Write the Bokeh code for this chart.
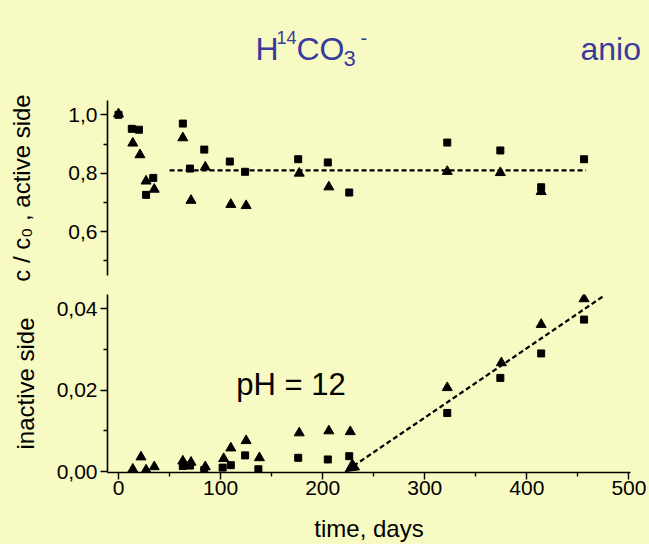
from bokeh.plotting import figure
from bokeh.layouts import column
from bokeh.models import Range1d, FixedTicker, CustomJSTickFormatter, Arrow, NormalHead, Label
from bokeh.embed import file_html
from bokeh.resources import INLINE
from bokeh.core.properties import value

# ---------------- data ----------------
top_sq_days = [0, 13, 20, 27, 34, 63, 70, 84, 109, 124, 176, 205, 226, 322, 374, 414, 456]
top_sq_vals = [1.000, 0.952, 0.949, 0.726, 0.784, 0.970, 0.816, 0.881, 0.840, 0.805, 0.848, 0.837, 0.734, 0.905, 0.878, 0.752, 0.848]

top_tr_days = [0, 14, 21, 27, 35, 63, 71, 85, 110, 125, 177, 206, 322, 374, 414]
top_tr_vals = [1.003, 0.903, 0.863, 0.773, 0.745, 0.921, 0.707, 0.821, 0.693, 0.689, 0.800, 0.753, 0.806, 0.802, 0.737]

bot_sq_days = [63, 70, 84, 102, 110, 124, 137, 176, 205, 226, 322, 374, 414, 456]
bot_sq_vals = [0.0014, 0.0015, 0.0004, 0.0010, 0.0016, 0.0040, 0.0006, 0.0034, 0.0030, 0.0038, 0.0144, 0.0230, 0.0290, 0.0373]

bot_tr_days = [14, 22, 27, 35, 63, 71, 85, 103, 110, 125, 138, 177, 206, 227, 322, 375, 414, 456]
bot_tr_vals = [0.0006, 0.0036, 0.0004, 0.0012, 0.0026, 0.0023, 0.0012, 0.0032, 0.0058, 0.0076, 0.0034, 0.0095, 0.0100, 0.0098, 0.0206, 0.0267, 0.0361, 0.0424]

mean_x = [50, 458]
mean_y = [0.81, 0.81]

fit_x = [222, 474]
fit_y = [0.0, 0.0429]

x_ticks = [0, 100, 200, 300, 400, 500]
x_minor = [50, 150, 250, 350, 450]
top_ticks = [0.6, 0.8, 1.0]
top_minor = [0.5, 0.7, 0.9]
bot_ticks = [0.0, 0.02, 0.04]
bot_minor = [0.01, 0.03]

# ---------------- style ----------------
BG = "#f7fac2"
FONT = "Liberation Sans"
BLUE = "#3a3a9e"
W = 649
xr = Range1d(-10.8, 501.5)


def style_axis(ax, size="21px"):
    ax.axis_line_width = 1.6
    ax.axis_line_color = "black"
    ax.major_tick_line_width = 1.4
    ax.minor_tick_line_width = 1.4
    ax.major_tick_in = 0
    ax.major_tick_out = 7
    ax.minor_tick_in = 0
    ax.minor_tick_out = 4
    ax.major_label_text_font = FONT
    ax.major_label_text_font_size = size
    ax.major_label_text_color = "black"
    ax.axis_label_text_font = FONT
    ax.axis_label_text_font_style = "normal"
    ax.axis_label_text_color = "black"
    ax.axis_label_text_font_size = "24px"


# ---------------- title strip ----------------
tf = figure(width=W, height=95, x_range=Range1d(0, W), y_range=Range1d(95, 0),
            output_backend="svg", toolbar_location=None, min_border=0, title=None,
            x_axis_location=None, y_axis_location=None)
tf.frame_align = False
tf.grid.visible = False
tf.outline_line_color = None
tf.background_fill_color = BG
tf.border_fill_color = BG

big = "32px"
kw = dict(text_font=value(FONT), text_color=BLUE, text_baseline="alphabetic")
tf.text(x=[255], y=[48], text=["H"], text_font_size=big, **kw)
tf.text(x=[276], y=[37], text=["14"], text_font_size="18px", **kw)
tf.text(x=[296], y=[48], text=["CO"], text_font_size=big, **kw)
tf.text(x=[343], y=[58], text=["3"], text_font_size="22px", **kw)
tf.text(x=[360], y=[37], text=["-"], text_font_size="20px", **kw)
tf.text(x=[580], y=[48], text=["anio"], text_font_size=big, **kw)

# ---------------- top panel ----------------
top = figure(width=W, height=192, x_range=xr, y_range=Range1d(0.45, 1.049),
             output_backend="svg", toolbar_location=None,
             min_border_left=107, min_border_right=19, min_border_top=5, min_border_bottom=12,
             x_axis_location=None)
top.grid.visible = False
top.outline_line_color = None
top.background_fill_color = BG
top.border_fill_color = BG
top.yaxis.ticker = FixedTicker(ticks=top_ticks, minor_ticks=top_minor)
top.yaxis.formatter = CustomJSTickFormatter(code="return tick.toFixed(1).replace('.', ',');")
top.yaxis.axis_label = "c / c\u2080 , active side"
style_axis(top.yaxis[0])
top.yaxis.major_label_standoff = 3
top.yaxis.axis_label_standoff = 30

top.line(mean_x, mean_y, line_color="black", line_width=2.2, line_dash="5 3")
top.scatter(top_sq_days, top_sq_vals, marker="square", size=7, color="black")
top.scatter(top_tr_days, top_tr_vals, marker="triangle", size=10, color="black")

# ---------------- bottom panel ----------------
bot = figure(width=W, height=257, x_range=xr, y_range=Range1d(-0.0002, 0.04346),
             output_backend="svg", toolbar_location=None,
             min_border_left=107, min_border_right=19, min_border_top=7, min_border_bottom=71)
bot.grid.visible = False
bot.outline_line_color = None
bot.background_fill_color = BG
bot.border_fill_color = BG
bot.yaxis.ticker = FixedTicker(ticks=bot_ticks, minor_ticks=bot_minor)
bot.yaxis.formatter = CustomJSTickFormatter(code="return tick.toFixed(2).replace('.', ',');")
bot.yaxis.axis_label = "inactive side"
style_axis(bot.yaxis[0])
bot.yaxis.major_label_standoff = 3
bot.yaxis.axis_label_standoff = 15

bot.xaxis.ticker = FixedTicker(ticks=x_ticks, minor_ticks=x_minor)
bot.xaxis.axis_label = "time, days"
style_axis(bot.xaxis[0])
bot.xaxis.major_label_standoff = 1
bot.xaxis.axis_label_standoff = 17

bot.add_layout(Arrow(x_start=fit_x[1], y_start=fit_y[1], x_end=fit_x[0], y_end=fit_y[0],
                     line_color="black", line_width=2.2, line_dash="5 3",
                     end=NormalHead(size=13, fill_color="black", line_color="black", line_width=1)))
bot.scatter(bot_sq_days, bot_sq_vals, marker="square", size=7, color="black")
bot.scatter(bot_tr_days, bot_tr_vals, marker="triangle", size=10, color="black")

bot.add_layout(Label(x=169, y=0.0215, text="pH = 12", text_font=FONT, text_font_size="31px",
                     text_align="center", text_baseline="middle", text_color="black"))

layout = column(tf, top, bot, spacing=0)

html = file_html(layout, INLINE)
html = html.replace("<head>", "<head><style>body{background:%s;}</style>" % BG, 1)
open("out.html", "w").write(html)
